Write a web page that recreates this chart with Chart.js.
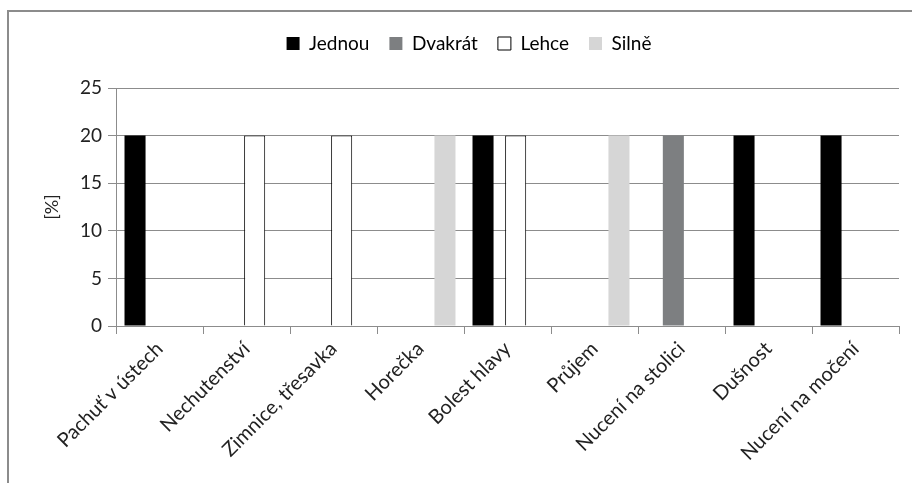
<!DOCTYPE html>
<html>
<head>
<meta charset="utf-8">
<script src="https://cdn.jsdelivr.net/npm/chart.js@4.4.1/dist/chart.umd.min.js"></script>
<style>
  body { margin: 0; background: #fff; }
  #wrap { position: relative; width: 912px; height: 483px; overflow: hidden; }
  #frame { position: absolute; left: 7px; top: 10px; width: 920px; height: 500px; border: 2px solid #8c8c8c; box-sizing: border-box; }
  canvas { position: absolute; left: 0; top: 0; }
</style>
</head>
<body>
<div id="wrap">
  <div id="frame"></div>
  <canvas id="myChart" width="912" height="483"></canvas>
</div>
<script>
const categories = ['Pachuť v ústech', 'Nechutenství', 'Zimnice, třesavka', 'Horečka', 'Bolest hlavy', 'Průjem', 'Nucení na stolici', 'Dušnost', 'Nucení na močení'];
const jednou  = [20, 0, 0, 0, 20, 0, 0, 20, 20];
const dvakrat = [0, 0, 0, 0, 0, 0, 20, 0, 0];
const lehce   = [0, 20, 20, 0, 20, 0, 0, 0, 0];
const silne   = [0, 0, 0, 20, 0, 20, 0, 0, 0];
const yTicks  = [0, 5, 10, 15, 20, 25];

const ctx = document.getElementById('myChart');
const font = 'Lato, "Open Sans", sans-serif';

function ds(label, data, bg, border) {
  return {
    label: label,
    data: data,
    backgroundColor: bg,
    borderColor: border || bg,
    borderWidth: border ? 1 : 0,
    categoryPercentage: 0.75,
    barPercentage: 1.29
  };
}

// extra room under the legend
const legendGap = {
  id: 'legendGap',
  beforeInit(chart) {
    const fit = chart.legend.fit;
    chart.legend.fit = function () {
      fit.bind(chart.legend)();
      this.height += 25;
    };
  }
};

new Chart(ctx, {
  type: 'bar',
  data: {
    labels: categories,
    datasets: [
      ds('Jednou', jednou, '#000000'),
      ds('Dvakrát', dvakrat, '#7d7f81'),
      ds('Lehce', lehce, '#ffffff', '#000000'),
      ds('Silně', silne, '#d6d6d6')
    ]
  },
  plugins: [legendGap],
  options: {
    responsive: false,
    animation: false,
    layout: { padding: { top: 14, right: 13, left: 39, bottom: 0 } },
    plugins: {
      tooltip: { enabled: false },
      legend: {
        position: 'top',
        labels: {
          color: '#222',
          font: { family: font, size: 19 },
          boxWidth: 13,
          boxHeight: 13,
          padding: 20,
          generateLabels: (chart) => chart.data.datasets.map((d, i) => ({
            text: d.label,
            fillStyle: d.backgroundColor,
            strokeStyle: d.label === 'Lehce' ? '#000' : d.backgroundColor,
            lineWidth: d.label === 'Lehce' ? 1 : 0,
            datasetIndex: i
          }))
        }
      }
    },
    scales: {
      x: {
        grid: { display: true, drawOnChartArea: false, offset: true, tickLength: 8, color: '#8c8c8c' },
        border: { color: '#8c8c8c' },
        ticks: {
          color: '#222',
          font: { family: font, size: 20 },
          maxRotation: 45,
          minRotation: 45,
          autoSkip: false
        },
        afterFit: (s) => { s.height = 157; }
      },
      y: {
        min: 0,
        max: 25,
        afterBuildTicks: (s) => { s.ticks = yTicks.map(v => ({ value: v })); },
        grid: { color: '#8c8c8c', tickLength: 8 },
        border: { color: '#8c8c8c' },
        ticks: { color: '#222', font: { family: font, size: 19 }, padding: 6 },
        title: { display: true, text: '[%]', color: '#222', font: { family: font, size: 18 }, padding: 2 },
        afterFit: (s) => { s.width = 77; }
      }
    }
  }
});
</script>
</body>
</html>
